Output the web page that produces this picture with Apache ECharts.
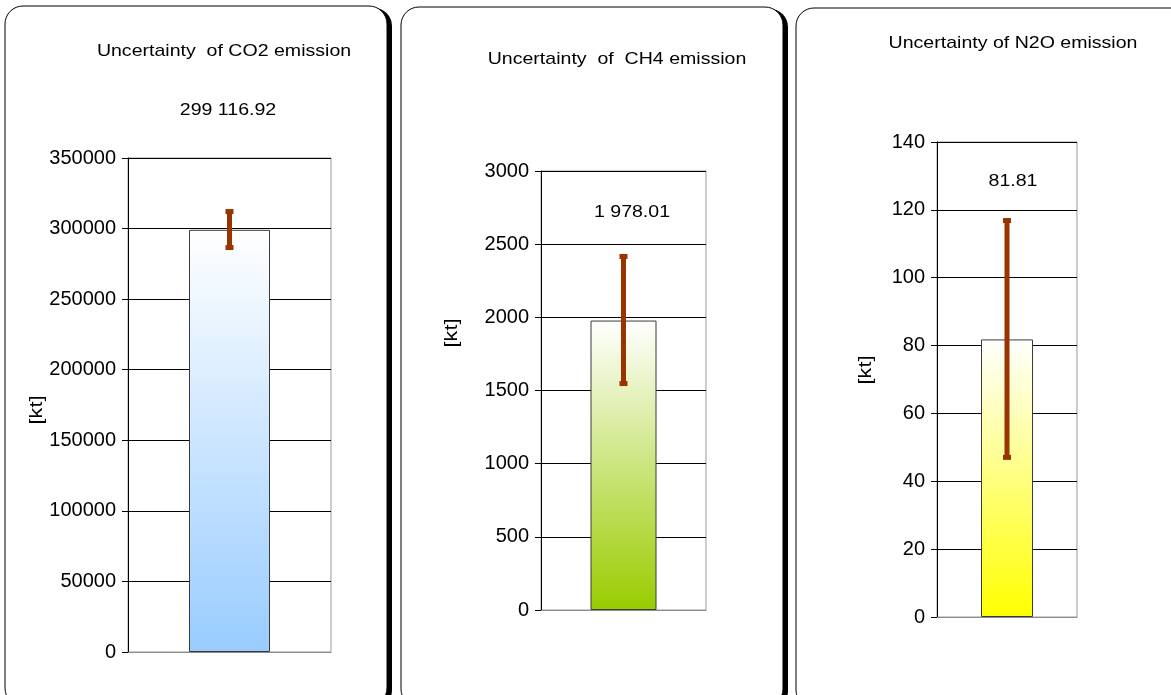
<!DOCTYPE html>
<html>
<head>
<meta charset="utf-8">
<script src="https://cdn.jsdelivr.net/npm/echarts@6/dist/echarts.min.js"></script>
<style>
  html, body { margin: 0; padding: 0; background: #fff; }
  #chart { width: 1171px; height: 695px; }
</style>
</head>
<body>
<div id="chart"></div>
<script>
// data
const gases = ['CO2', 'CH4', 'N2O'];
const panelTitles = ['Uncertainty  of CO2 emission', 'Uncertainty  of  CH4 emission', 'Uncertainty of N2O emission'];
const emissions = [299116.92, 1978.01, 81.81];
const errLow = [286200, 1544, 46.9];
const errHigh = [312400, 2419, 117.0];
const yMax = [350000, 3000, 140];
const yStep = [50000, 500, 20];
const unitName = '[kt]';

// layout of the three panels (pixels)
const panels = [
  { box: [5, 6, 382, 700], grid: [128, 158, 203, 494], barW: 81, title: [224, 51], value: [228, 110], unit: [37, 410],
    colors: ['#ffffff', '#99ccff'] },
  { box: [401, 7, 382, 700], grid: [541, 171, 165, 439], barW: 66, title: [617, 59], value: [632, 212], unit: [452, 333],
    colors: ['#ffffff', '#99cc00'] },
  { box: [796, 8, 400, 700], grid: [937, 142, 140, 475], barW: 52, title: [1013, 43], value: [1013, 181], unit: [866, 370],
    colors: ['#ffffff', '#ffff00'] }
];

const FONT = 'Liberation Sans, Arial, sans-serif';

function fmt(v) {
  // 299116.92 -> "299 116.92"
  let parts = v.toFixed(2).split('.');
  parts[0] = parts[0].replace(/\B(?=(\d{3})+(?!\d))/g, ' ');
  return parts.join('.');
}

function errorItem(params, api) {
  let top = api.coord([api.value(0), api.value(2)]);
  let bot = api.coord([api.value(0), api.value(1)]);
  let c = '#993300';
  return {
    type: 'group',
    children: [
      { type: 'line', shape: { x1: top[0], y1: top[1], x2: bot[0], y2: bot[1] }, style: { stroke: c, lineWidth: 5 } },
      { type: 'rect', shape: { x: top[0] - 4, y: top[1] - 2, width: 8, height: 5 }, style: { fill: c } },
      { type: 'rect', shape: { x: bot[0] - 4, y: bot[1] - 3, width: 8, height: 5 }, style: { fill: c } }
    ]
  };
}

let grids = [], xAxes = [], yAxes = [], series = [], graphics = [];

panels.forEach((p, i) => {
  // panel frame: black offset shape as the shadow, white rounded box on top
  graphics.push({
    type: 'rect', z: -11,
    shape: { x: p.box[0] + 5, y: p.box[1] + 2, width: p.box[2], height: p.box[3], r: 18 },
    style: { fill: '#000' }
  });
  graphics.push({
    type: 'rect', z: -10,
    shape: { x: p.box[0], y: p.box[1], width: p.box[2], height: p.box[3], r: 18 },
    style: { fill: '#fff', stroke: '#000', lineWidth: 1 }
  });
  graphics.push({
    type: 'text', x: p.title[0], y: p.title[1], scaleX: 1.15,
    style: { text: panelTitles[i], font: '17px ' + FONT, fill: '#000', align: 'center', verticalAlign: 'middle' }
  });
  graphics.push({
    type: 'text', x: p.value[0], y: p.value[1], scaleX: 1.15,
    style: { text: fmt(emissions[i]), font: '17px ' + FONT, fill: '#000', align: 'center', verticalAlign: 'middle' }
  });
  graphics.push({
    type: 'text', x: p.unit[0], y: p.unit[1], rotation: Math.PI / 2, scaleX: 1.2,
    style: { text: unitName, font: '18px ' + FONT, fill: '#000', align: 'center', verticalAlign: 'middle' }
  });

  grids.push({
    left: p.grid[0], top: p.grid[1], width: p.grid[2], height: p.grid[3],
    show: true, backgroundColor: '#fff', borderColor: '#9a9a9a', borderWidth: 1
  });
  xAxes.push({
    type: 'category', gridIndex: i, data: [gases[i]],
    axisLine: { show: true, lineStyle: { color: '#8c8c8c' } },
    axisTick: { show: false }, axisLabel: { show: false }
  });
  yAxes.push({
    type: 'value', gridIndex: i, min: 0, max: yMax[i], interval: yStep[i],
    axisLine: { show: true, lineStyle: { color: '#000' } },
    axisTick: { show: true, inside: false, length: 6, lineStyle: { color: '#000' } },
    axisLabel: { fontSize: 20, fontFamily: FONT, color: '#000', margin: 12, formatter: v => String(v) },
    splitLine: { show: true, lineStyle: { color: '#000', width: 1 } }
  });
  series.push({
    type: 'bar', xAxisIndex: i, yAxisIndex: i, barWidth: p.barW, z: 3,
    data: [emissions[i]],
    itemStyle: {
      borderColor: '#3a3a3a', borderWidth: 1,
      color: new echarts.graphic.LinearGradient(0, 0, 0, 1, [
        { offset: 0, color: p.colors[0] },
        { offset: 1, color: p.colors[1] }
      ])
    }
  });
  series.push({
    type: 'custom', xAxisIndex: i, yAxisIndex: i, z: 5,
    renderItem: errorItem,
    data: [[0, errLow[i], errHigh[i]]]
  });
});

const chart = echarts.init(document.getElementById('chart'), null, { renderer: 'canvas' });
chart.setOption({
  animation: false,
  backgroundColor: '#fff',
  grid: grids,
  xAxis: xAxes,
  yAxis: yAxes,
  series: series,
  graphic: graphics
});
</script>
</body>
</html>
